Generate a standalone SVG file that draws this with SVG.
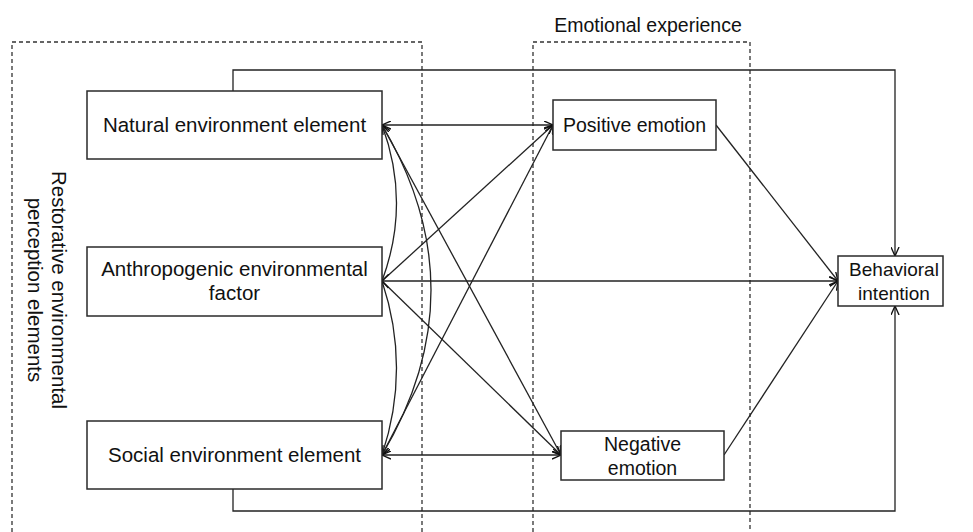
<svg xmlns="http://www.w3.org/2000/svg" width="973" height="532" viewBox="0 0 973 532">
<style>
.box{fill:#fff;stroke:#2a2a2a;stroke-width:1.5}
.t{font-family:"Liberation Sans",Arial,sans-serif;font-size:20.5px;fill:#111;text-anchor:middle}
.s{font-size:19.5px}
.dash{fill:none;stroke:#333;stroke-width:1.3;stroke-dasharray:4 3}
.c{fill:none;stroke:#222;stroke-width:1.3}
.a{marker-end:url(#arr)}
.d{marker-start:url(#arr);marker-end:url(#arr)}
</style>
<defs>
<marker id="arr" viewBox="0 0 10 10" refX="10" refY="5" markerWidth="9" markerHeight="9" markerUnits="userSpaceOnUse" orient="auto-start-reverse">
<path d="M0,0.5 L10,5 L0,9.5" fill="none" stroke="#111" stroke-width="1.5"/>
</marker>
</defs>
<rect width="973" height="532" fill="#fff"/>
<g id="groups">
<path class="dash" d="M12,532 V42 H422 V532"/>
<path class="dash" d="M533,532 V42 H750 V532"/>
<text class="t s" x="648" y="32">Emotional experience</text>
<g transform="translate(52,290) rotate(90)">
<text class="t" x="0" y="0">Restorative environmental</text>
<text class="t" x="0" y="24">perception elements</text>
</g>
</g>
<g id="connectors">
<path class="c a" d="M233,91 V70 H895 V256"/>
<path class="c a" d="M233,489 V511 H895 V306"/>
<path class="c d" d="M382,125 H553"/>
<path class="c d" d="M382,455 H561"/>
<path class="c a" d="M382,125 L561,455"/>
<path class="c a" d="M382,281 L553,125"/>
<path class="c a" d="M382,281 L561,455"/>
<path class="c a" d="M382,455 L553,125"/>
<path class="c a" d="M382,281 H838"/>
<path class="c a" d="M716,125 L838,281"/>
<path class="c a" d="M724,455 L838,281"/>
<path class="c d" d="M382,125 Q411,203 382,281"/>
<path class="c d" d="M382,281 Q411,368 382,455"/>
<path class="c d" d="M382,125 Q480,290 382,455"/>
</g>
<g id="natural">
<rect class="box" x="87" y="91" width="295" height="68"/>
<text class="t" x="234.5" y="132">Natural environment element</text>
</g>
<g id="anthropogenic">
<rect class="box" x="87" y="247" width="295" height="69"/>
<text class="t" x="234.5" y="276">Anthropogenic environmental</text>
<text class="t" x="234.5" y="300">factor</text>
</g>
<g id="social">
<rect class="box" x="87" y="421" width="295" height="68"/>
<text class="t" x="234.5" y="462">Social environment element</text>
</g>
<g id="positive">
<rect class="box" x="553" y="100" width="163" height="50"/>
<text class="t s" x="634.5" y="132">Positive emotion</text>
</g>
<g id="negative">
<rect class="box" x="561" y="431" width="163" height="49"/>
<text class="t s" x="642.5" y="451">Negative</text>
<text class="t s" x="642.5" y="475">emotion</text>
</g>
<g id="behavioral">
<rect class="box" x="838" y="256" width="105" height="50"/>
<text class="t" x="894" y="276" style="font-size:19px">Behavioral</text>
<text class="t" x="894" y="300" style="font-size:19px">intention</text>
</g>
</svg>
